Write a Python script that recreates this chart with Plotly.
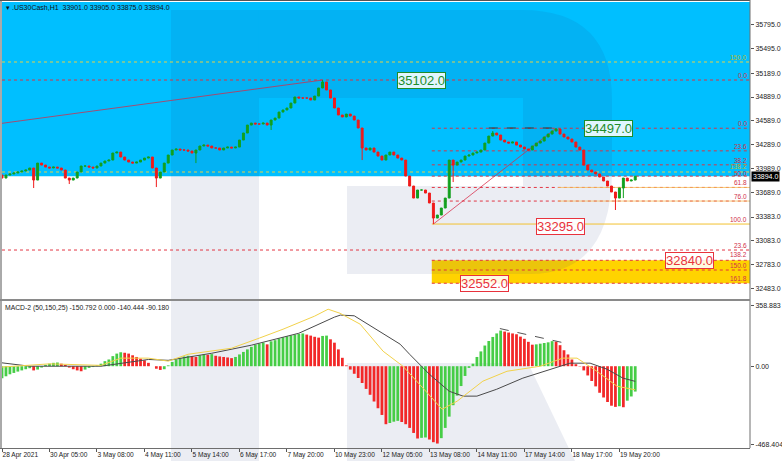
import plotly.graph_objects as go

W, H = 782, 461

# ---------------- data ----------------
x_tick_labels = ["28 Apr 2021", "30 Apr 05:00", "3 May 08:00", "4 May 11:00",
                 "5 May 14:00", "6 May 17:00", "7 May 20:00", "10 May 23:00",
                 "12 May 05:00", "13 May 08:00", "14 May 11:00", "17 May 14:00",
                 "18 May 17:00", "19 May 20:00"]
x_tick_bars = [0, 12, 24, 36, 48, 60, 72, 84, 96, 108, 120, 132, 144, 156]

price_tick_vals = [35795, 35495, 35189, 34889, 34589, 34289, 33989, 33689,
                   33383, 33083, 32783, 32483]

first_open = 33910
closes = [
    33872, 33910, 33923, 33935, 33948, 33960, 33973, 33998, 33847, 34060,
    34035, 34010, 33998, 34010, 33998, 33973, 33872, 33847, 33872, 33948,
    34023, 34023, 34010, 33998, 34023, 34060, 34086, 34098, 34186, 34198,
    34136, 34098, 34073, 34060, 34073, 34098, 34123, 34136, 33998, 33872,
    33948, 34060, 34161, 34224, 34236, 34224, 34224, 34211, 34186, 34224,
    34274, 34286, 34274, 34249, 34249, 34224, 34249, 34261, 34249, 34261,
    34349, 34437, 34537, 34562, 34550, 34550, 34562, 34537, 34600, 34625,
    34700, 34726, 34751, 34813, 34889, 34876, 34876, 34876, 34851, 34901,
    35002, 35077, 34977, 34876, 34751, 34663, 34638, 34675, 34650, 34600,
    34500, 34249, 34224, 34249, 34198, 34148, 34098, 34161, 34198, 34161,
    34123, 34098, 33897, 33772, 33621, 33722, 33722, 33684, 33559, 33370,
    33408, 33496, 33621, 34098, 34035, 34073, 34098, 34148, 34161, 34186,
    34198, 34224, 34311, 34399, 34437, 34412, 34349, 34324, 34311, 34324,
    34286, 34261, 34236, 34224, 34274, 34311, 34336, 34387, 34424, 34462,
    34487, 34424, 34387, 34362, 34324, 34261, 34224, 34035, 33973, 33948,
    33923, 33885, 33835, 33772, 33697, 33621, 33747, 33872, 33835, 33847,
    33894,
]
wick_highs = {81: 35102, 124: 34462, 140: 34497}
wick_lows = {8: 33747, 17: 33797, 39: 33759, 49: 34060, 68: 34475, 91: 34098,
             109: 33295, 114: 33822, 155: 33471, 157: 33621}

macd_hist = [
    -71, -60, -48, -40, -32, -25, -18, -12, -25, -20,
    -8, 8, 15, 20, 22, 15, 8, -8, -18, -25,
    -30, -20, -10, -5, 5, 15, 30, 40, 60, 75,
    83, 80, 75, 65, 55, 45, 35, 20, 0, -15,
    -22, -18, 5, 25, 40, 50, 58, 62, 60, 55,
    65, 70, 68, 72, 62, 58, 55, 52, 48, 55,
    70, 85, 100, 115, 128, 135, 140, 130, 148, 155,
    165, 172, 178, 183, 188, 192, 195, 188, 182, 175,
    170, 180, 182, 160, 140, 100, 50, 5, -20, -45,
    -70, -100, -135, -170, -210, -250, -290, -345, -338, -330,
    -325, -332, -345, -367, -397, -430, -426, -424, -436, -452,
    -460, -428, -367, -300, -232, -175, -118, -58, -10, 15,
    55, 88, 123, 150, 174, 195, 212, 206, 200, 195,
    190, 176, 163, 145, 128, 130, 134, 138, 142, 149,
    146, 125, 95, 70, 40, 12, -2, -25, -55, -88,
    -120, -158, -186, -213, -235, -242, -238, -244, -205, -180,
    -150.792,
]
macd_gray_x = [0, 7, 25, 37, 42, 53, 63, 75, 84, 85.5, 89, 94, 98, 100.6, 103,
               108, 113, 116.5, 120, 125, 131.6, 138.5, 143.5, 148.6, 152.9,
               156.9, 160]
macd_gray = [20, 0, 0, 40, 35, 77, 125, 196, 292, 304, 300, 226, 168, 131, 71,
             -48, -149, -178, -178, -137, -71, -18, 18, 18, -18, -71, -90.180]
macd_yellow_x = [0, 12, 25, 30, 37, 42, 47, 58, 65, 71, 79, 82.4, 85.4, 90.5,
                 96.3, 98, 100.5, 101.3, 106.4, 111.2, 115, 121.5, 127.6, 136,
                 141.7, 145.3, 150.3, 155.4, 160]
macd_yellow = [-5, 14, 5, 48, 48, 30, 71, 107, 167, 220, 298, 339, 315, 250,
               89, 60, 18, 0, -131, -256, -208, -89, -30, 0, 48, 48, -30, -119,
               -140.444]
macd_ticks = [358.883, 0.0, -468.404]
macd_tick_text = ["358.883", "0.00", "-468.404"]

# Fibonacci objects
swing_high, swing_low = 34497, 33295
small_fib_levels = [0.0, 23.6, 38.2, 50.0, 61.8, 76.0, 100.0]
big_fib_levels = [150.0, 0.0, 138.2, 23.6]
big_fib_prices = [35328, 35102, 33948, 32969]
target_fib_levels = [138.2, 150.0, 161.8]
target_fib_prices = [32840, 32718, 32552]
current_price = 33894.0
# trend / fib base lines: (bar0, price0, bar1, price1)
big_fib_base = (0, 34559, 81, 35102)
small_fib_base = (109, 33295, 140, 34497)
top_trend = (123, 34500, 140.2, 34500)
macd_trend = (125.8, 224, 142.7, 135)
small_fib_start_bar = 108.6
big_labels = [("35102.0", 106.1, 35102, "green"), ("34497.0", 153.2, 34497, "green"),
              ("33295.0", 141.2, 33295, "red"), ("32840.0", 173.6, 32840, "red"),
              ("32552.0", 121.8, 32552, "red")]
header_text = "▾ .US30Cash,H1  33901.0 33905.0 33875.0 33894.0"
macd_text = "MACD-2 (50,150,25) -150.792 0.000 -140.444 -90.180"

# ---------------- geometry / style ----------------
X_DOM = [2 / W, 750 / W]
MAIN_DOM = [1 - 298 / H, 1 - 2 / H]
MACD_DOM = [1 - 448 / H, 1 - 302 / H]
PRICE_RANGE = [32367, 36081]
MACD_RANGE = [-486.5, 381.9]
X_RANGE = [0, 189]
FONT = "Liberation Sans"
GREEN = "#12A01E"
RED = "#F01A1A"
FIB_RED = "rgba(225,45,60,0.95)"
FIB_YEL = "#E6D046"
LABEL_SHIFT = {138.2: 1.5, 50.0: -1.5}


def pp(px, py):
    return f"{px / W:.5f},{1 - py / H:.5f}"


def price_paper(p):
    return MAIN_DOM[0] + (p - PRICE_RANGE[0]) / (PRICE_RANGE[1] - PRICE_RANGE[0]) * (MAIN_DOM[1] - MAIN_DOM[0])


n = len(closes)
bars = list(range(n))
opens = [first_open] + closes[:-1]
highs = [max(o, c, wick_highs.get(i, c)) for i, (o, c) in enumerate(zip(opens, closes))]
lows = [min(o, c, wick_lows.get(i, c)) for i, (o, c) in enumerate(zip(opens, closes))]
hist_colors = ["#46CD46" if (i == 0 or v >= macd_hist[i - 1]) else "#F22828"
               for i, v in enumerate(macd_hist)]

fig = go.Figure()
fig.add_trace(go.Candlestick(
    x=bars, open=opens, high=highs, low=lows, close=closes,
    xaxis="x", yaxis="y",
    increasing=dict(line=dict(color=GREEN, width=1), fillcolor=GREEN),
    decreasing=dict(line=dict(color=RED, width=1), fillcolor=RED),
    whiskerwidth=0, hoverinfo="skip"))
fig.add_trace(go.Bar(x=bars, y=macd_hist, xaxis="x2", yaxis="y2",
                     marker=dict(color=hist_colors, line=dict(width=0)), hoverinfo="skip"))
fig.add_trace(go.Scatter(x=macd_gray_x, y=macd_gray, xaxis="x2", yaxis="y2", mode="lines",
                         line=dict(color="#4A4A4A", width=1), hoverinfo="skip"))
fig.add_trace(go.Scatter(x=macd_yellow_x, y=macd_yellow, xaxis="x2", yaxis="y2", mode="lines",
                         line=dict(color="#F2D24A", width=1), hoverinfo="skip"))

shapes = []
# blue zone and target box (paper layer, below watermark)
shapes.append(dict(type="rect", xref="paper", yref="paper", x0=X_DOM[0], x1=X_DOM[1],
                   y0=price_paper(current_price), y1=MAIN_DOM[1],
                   fillcolor="#00BFFF", line=dict(width=0), layer="below"))
shapes.append(dict(type="rect", xref="x", yref="paper", x0=small_fib_start_bar, x1=X_RANGE[1],
                   y0=price_paper(target_fib_prices[-1]), y1=price_paper(target_fib_prices[0]),
                   fillcolor="#FFD300", line=dict(width=0), layer="below"))
# watermark "R"
wm = "rgba(30,60,120,0.09)"
shapes.append(dict(type="path", xref="paper", yref="paper", layer="below", fillcolor=wm, line=dict(width=0),
                   path=f"M{pp(171,10)} L{pp(259,10)} L{pp(259,461)} L{pp(171,461)} Z"))
shapes.append(dict(type="path", xref="paper", yref="paper", layer="below", fillcolor=wm, line=dict(width=0),
                   path=(f"M{pp(259,10)} L{pp(522,10)} Q{pp(612,10)} {pp(612,100)} L{pp(612,170)} "
                         f"Q{pp(612,274)} {pp(530,274)} L{pp(347,274)} L{pp(347,186)} L{pp(523,186)} "
                         f"L{pp(523,98)} L{pp(259,98)} Z")))
shapes.append(dict(type="path", xref="paper", yref="paper", layer="below", fillcolor=wm, line=dict(width=0),
                   path=f"M{pp(347,363)} L{pp(528,363)} L{pp(575,461)} L{pp(347,461)} Z"))

annotations = []


def level_label(lvl, price, color):
    annotations.append(dict(text=f"{lvl:.1f}", xref="paper", yref="y", x=748 / W, y=price,
                            xanchor="right", yanchor="bottom", showarrow=False,
                            yshift=LABEL_SHIFT.get(lvl, 0),
                            font=dict(family=FONT, size=6.5, color=color), borderpad=0))


# big fib lines (full width)
for lvl, p in zip(big_fib_levels, big_fib_prices):
    yel = lvl in (150.0, 138.2)
    shapes.append(dict(type="line", xref="x", yref="y", x0=X_RANGE[0], x1=X_RANGE[1], y0=p, y1=p,
                       line=dict(color=FIB_YEL if yel else FIB_RED, width=1, dash="dot"), layer="below"))
    level_label(lvl, p, "#B8B830" if yel else "#D0304A")
# small fib retracement
rng = swing_high - swing_low
for lvl in small_fib_levels:
    p = swing_high - lvl / 100 * rng
    if lvl == 100.0:
        ln = dict(color="#F2C230", width=1)
    else:
        ln = dict(color=FIB_RED, width=1, dash="dot")
    shapes.append(dict(type="line", xref="x", yref="y", x0=small_fib_start_bar, x1=X_RANGE[1],
                       y0=p, y1=p, line=ln, layer="below"))
    level_label(lvl, p, "#D0304A")
    if lvl in (61.8, 76.0):
        shapes.append(dict(type="line", xref="x", yref="y", x0=140.5, x1=X_RANGE[1], y0=p, y1=p,
                           line=dict(color="rgba(245,190,90,0.8)", width=1), layer="below"))
# target fib levels inside yellow box
for lvl, p in zip(target_fib_levels, target_fib_prices):
    shapes.append(dict(type="line", xref="x", yref="y", x0=small_fib_start_bar, x1=X_RANGE[1],
                       y0=p, y1=p, line=dict(color=FIB_RED, width=1, dash="dot"), layer="below"))
    level_label(lvl, p, "#D0304A")

# diagonal bases and trend lines
for (b0, p0, b1, p1) in (big_fib_base, small_fib_base):
    shapes.append(dict(type="line", xref="x", yref="y", x0=b0, y0=p0, x1=b1, y1=p1,
                       line=dict(color="rgba(215,40,70,0.75)", width=1), layer="below"))
shapes.append(dict(type="line", xref="x", yref="y", x0=top_trend[0], y0=top_trend[1],
                   x1=top_trend[2], y1=top_trend[3], line=dict(color="#333", width=1, dash="dash")))
shapes.append(dict(type="line", xref="x2", yref="y2", x0=macd_trend[0], y0=macd_trend[1],
                   x1=macd_trend[2], y1=macd_trend[3], line=dict(color="#555", width=1, dash="dash")))

# frame lines
frame = "#6E6E6E"
shapes += [
    dict(type="line", xref="paper", yref="paper", x0=1 / W, x1=1 / W, y0=1 - 1 / H, y1=1 - 448 / H,
         line=dict(color="#555", width=1)),
    dict(type="line", xref="paper", yref="paper", x0=0, x1=750 / W, y0=1 - 0.5 / H, y1=1 - 0.5 / H,
         line=dict(color="#555", width=1)),
    dict(type="line", xref="paper", yref="paper", x0=750 / W, x1=750 / W, y0=1 - 448 / H, y1=1,
         line=dict(color=frame, width=1)),
    dict(type="line", xref="paper", yref="paper", x0=0, x1=750 / W, y0=1 - 300 / H, y1=1 - 300 / H,
         line=dict(color="#8A8A8A", width=2)),
    dict(type="line", xref="paper", yref="paper", x0=0, x1=750 / W, y0=1 - 448.5 / H, y1=1 - 448.5 / H,
         line=dict(color=frame, width=1)),
]

# big price labels
for text, b, p, col in big_labels:
    c = "#1E8C2A" if col == "green" else "#E8323C"
    annotations.append(dict(text=text, xref="x", yref="y", x=b, y=p, showarrow=False,
                            font=dict(family=FONT, size=13, color=c),
                            bgcolor="rgba(255,255,255,0.88)", bordercolor=c, borderwidth=1, borderpad=0,
                            yshift=-2 if p == swing_low else 0))
# current price tag
annotations.append(dict(text=f"{current_price:.1f}", xref="paper", yref="y", x=751 / W, y=current_price,
                        xanchor="left", showarrow=False, bgcolor="#000", borderpad=1,
                        font=dict(family=FONT, size=7, color="white")))
# headers
annotations.append(dict(text=header_text, xref="paper", yref="paper", x=4 / W, y=1 - 2 / H,
                        xanchor="left", yanchor="top", showarrow=False,
                        font=dict(family=FONT, size=7, color="#111")))
annotations.append(dict(text=macd_text, xref="paper", yref="paper", x=3 / W, y=1 - 302 / H,
                        xanchor="left", yanchor="top", showarrow=False,
                        font=dict(family=FONT, size=6.8, color="#222")))

axis_common = dict(showgrid=False, zeroline=False, showline=False)
fig.update_layout(
    width=W, height=H, autosize=False, template="none",
    margin=dict(l=0, r=0, t=0, b=0), paper_bgcolor="white", plot_bgcolor="rgba(0,0,0,0)",
    showlegend=False, bargap=0.3,
    font=dict(family=FONT, size=7, color="#222"),
    xaxis=dict(domain=X_DOM, range=X_RANGE, anchor="y", showticklabels=False, ticks="",
               rangeslider=dict(visible=False), automargin=False, **axis_common),
    xaxis2=dict(domain=X_DOM, range=X_RANGE, anchor="y2", matches="x", tickmode="array",
                tickvals=x_tick_bars, ticktext=x_tick_labels, ticks="outside", ticklen=3,
                tickcolor="#555", ticklabelposition="outside right", tickangle=0,
                automargin=False,
                tickfont=dict(family=FONT, size=6.6, color="#222"), **axis_common),
    yaxis=dict(domain=MAIN_DOM, range=PRICE_RANGE, anchor="x", side="right", tickmode="array",
               tickvals=price_tick_vals, ticktext=[f"{v:.1f}" for v in price_tick_vals],
               ticks="outside", ticklen=3, tickcolor="#555", automargin=False,
               tickfont=dict(family=FONT, size=7, color="#222"), **axis_common),
    yaxis2=dict(domain=MACD_DOM, range=MACD_RANGE, anchor="x2", side="right", tickmode="array",
                tickvals=macd_ticks, ticktext=macd_tick_text, ticks="outside", ticklen=3,
                tickcolor="#555", automargin=False,
                tickfont=dict(family=FONT, size=7, color="#222"), **axis_common),
    shapes=shapes, annotations=annotations,
)
fig.write_html("out.html", config={"displayModeBar": False, "staticPlot": True},
               post_script="document.body.style.margin='0';document.body.style.overflow='hidden';")
